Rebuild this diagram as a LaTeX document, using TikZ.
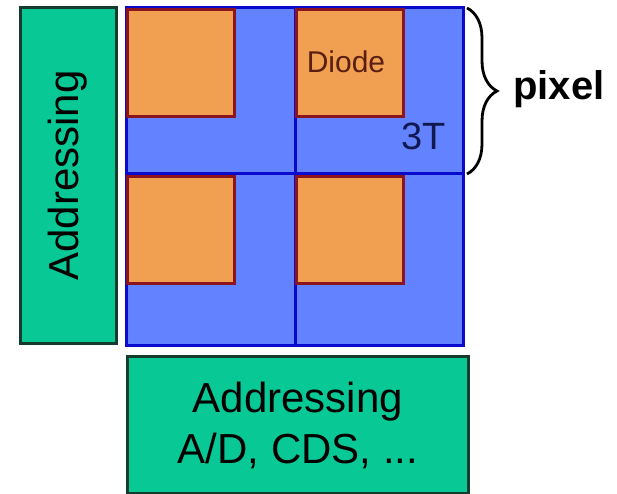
\documentclass[tikz,border=0pt]{standalone}
\usepackage{fontspec}
\setmainfont{Liberation Sans}
\usetikzlibrary{decorations.pathreplacing}
\definecolor{addrgreen}{RGB}{8,200,150}
\definecolor{addredge}{RGB}{20,60,45}
\definecolor{pixblue}{RGB}{98,130,255}
\definecolor{pixedge}{RGB}{10,10,205}
\definecolor{diodeorange}{RGB}{240,160,80}
\definecolor{diodeedge}{RGB}{140,20,30}
\definecolor{diodetext}{RGB}{90,30,20}
\definecolor{ttext}{RGB}{15,25,80}
\tikzset{
  addrbox/.style={draw=addredge, fill=addrgreen, line width=3pt, inner sep=0pt},
  diodebox/.style={draw=diodeedge, fill=diodeorange, line width=3pt, inner sep=0pt,
    minimum width=107pt, minimum height=107pt, anchor=north west},
  gridline/.style={draw=pixedge, line width=3pt},
  bigfont/.style={font=\fontsize{42}{51}\selectfont}
}
\begin{document}
\begin{tikzpicture}[x=1pt,y=-1pt]
\useasboundingbox[fill=white] (0,0) rectangle (617,494);
% left addressing
\node[addrbox, bigfont, rotate=90, minimum width=335pt, minimum height=96pt] (laddr) at (68,175.5) {Addressing};
% pixel array background
\node[fill=pixblue, inner sep=0pt, minimum width=337pt, minimum height=337pt, anchor=north west] (array) at (126,8) {};
\coordinate (vt) at (295,8);
\coordinate (vb) at (295,345);
\coordinate (hl) at (126,174);
\coordinate (hr) at (463,174);
\draw[gridline] (vt) -- (vb);
\draw[gridline] (hl) -- (hr);
\draw[gridline] (array.north west) rectangle (array.south east);
% diodes
\node[diodebox] (d11) at (126,8) {};
\node[diodebox] (d12) at (295,8) {};
\node[diodebox] (d21) at (126,175) {};
\node[diodebox] (d22) at (295,175) {};
\node[text=diodetext, font=\fontsize{30}{36}\selectfont, inner sep=0pt] (diode) at (346,62) {Diode};
\node[text=ttext, font=\fontsize{38}{44}\selectfont, inner sep=0pt] (tt) at (424,136) {3T};
% bottom addressing
\node[addrbox, bigfont, align=center, minimum width=341pt, minimum height=137pt, anchor=north west] (baddr) at (126,355) {Addressing\\A/D, CDS, ...};
% brace
\coordinate (bt) at (467,8);
\coordinate (bb) at (467,174);
\draw[line width=2.8pt, decoration={brace, amplitude=30pt}, decorate] (bt) -- (bb);
\node[font=\fontsize{40}{48}\selectfont\bfseries, anchor=base west, inner sep=0pt] (pix) at (513,100) {pixel};
\end{tikzpicture}
\end{document}
